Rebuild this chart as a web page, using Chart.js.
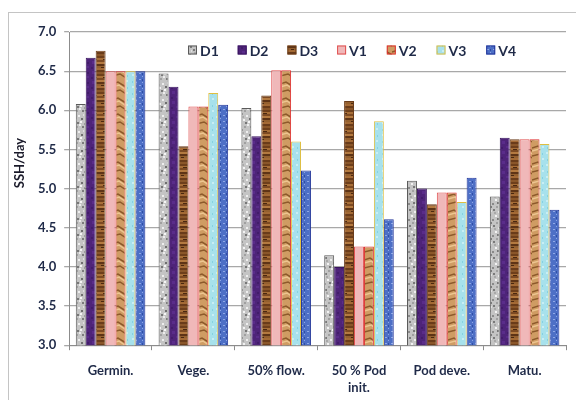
<!DOCTYPE html>
<html>
<head>
<meta charset="utf-8">
<script src="https://cdn.jsdelivr.net/npm/chart.js@4.4.1/dist/chart.umd.min.js"></script>
<style>
  html, body { margin: 0; padding: 0; background: #ffffff; overflow: hidden; }
  #wrap { position: relative; width: 576px; height: 400px; overflow: hidden; }
  #frame { position: absolute; left: 8px; top: 12px; width: 580px; height: 400px; border: 1px solid #c4c4c4; box-sizing: border-box; }
  canvas { position: absolute; left: 0; top: 0; }
</style>
</head>
<body>
<div id="wrap">
  <div id="frame"></div>
  <canvas id="canvasChart" width="576" height="420"></canvas>
</div>
<script>
// stages on the x axis
var stages = ['Germin.', 'Vege.', '50% flow.', ['50 % Pod', 'init.'], 'Pod deve.', 'Matu.'];
var seriesNames = ['D1', 'D2', 'D3', 'V1', 'V2', 'V3', 'V4'];

// SSH/day values
var d1 = [6.08, 6.47, 6.03, 4.15, 5.10, 4.90];
var d2 = [6.67, 6.30, 5.67, 4.00, 5.00, 5.65];
var d3 = [6.76, 5.54, 6.19, 6.12, 4.80, 5.63];
var v1 = [6.50, 6.05, 6.51, 4.26, 4.95, 5.63];
var v2 = [6.50, 6.05, 6.51, 4.26, 4.95, 5.63];
var v3 = [6.50, 6.22, 5.60, 5.86, 4.83, 5.57];
var v4 = [6.50, 6.07, 5.23, 4.61, 5.14, 4.73];

var yTicks = [3.0, 3.5, 4.0, 4.5, 5.0, 5.5, 6.0, 6.5, 7.0];
var yTitle = 'SSH/day';

var textColor = '#1f2a48';
var fontFam = 'Lato, "Open Sans", sans-serif';

// small texture tiles so the bars look like the office fills
function makePattern(w, h, paint) {
    var c = document.createElement('canvas');
    c.width = w;
    c.height = h;
    var g = c.getContext('2d');
    paint(g, w, h);
    return document.getElementById('canvasChart').getContext('2d').createPattern(c, 'repeat');
}

var patMarble = makePattern(12, 16, function (g, w, h) {
    g.fillStyle = '#c4c4c4';
    g.fillRect(0, 0, w, h);
    var spots = [[1, 1, '#7a7a7a'], [6, 3, '#eeeeee'], [9, 6, '#6f6f6f'], [3, 7, '#f2f2f2'],
                 [0, 11, '#8a8a8a'], [7, 12, '#ececec'], [10, 14, '#7c7c7c'], [4, 14, '#a0a0a0'],
                 [2, 4, '#a8a8a8'], [8, 9, '#f5f5f5'], [5, 10, '#777777'], [11, 2, '#e0e0e0']];
    spots.forEach(function (s) { g.fillStyle = s[2]; g.fillRect(s[0], s[1], 2, 2); });
});

var patPurple = makePattern(10, 10, function (g, w, h) {
    g.fillStyle = '#4e2479';
    g.fillRect(0, 0, w, h);
    g.fillStyle = '#5a2c8a';
    g.fillRect(2, 1, 3, 3);
    g.fillRect(6, 6, 3, 2);
    g.fillStyle = '#421c6a';
    g.fillRect(7, 2, 2, 2);
    g.fillRect(1, 7, 2, 2);
});

var patWood = makePattern(10, 18, function (g, w, h) {
    var rows = ['#8a5629', '#6e3f1b', '#a86f38', '#7d4a22', '#b47a40', '#5e3416', '#94602f', '#a46a35', '#6a3c1a'];
    for (var i = 0; i < rows.length; i++) {
        g.fillStyle = rows[i];
        g.fillRect(0, i * 2, w, 2);
    }
    g.fillStyle = '#4a2810';
    g.fillRect(3, 5, 4, 1);
    g.fillRect(1, 13, 3, 1);
});

var patPink = makePattern(4, 4, function (g, w, h) {
    g.fillStyle = '#f0b8b9';
    g.fillRect(0, 0, w, h);
});

var patTan = makePattern(14, 16, function (g, w, h) {
    g.fillStyle = '#cf9c63';
    g.fillRect(0, 0, w, h);
    g.strokeStyle = '#8d5a2b';
    g.lineWidth = 1.5;
    g.beginPath();
    g.moveTo(0, 4); g.lineTo(6, 2); g.lineTo(14, 7);
    g.moveTo(0, 12); g.lineTo(8, 10); g.lineTo(14, 14);
    g.stroke();
    g.strokeStyle = '#ecc590';
    g.beginPath();
    g.moveTo(0, 7); g.lineTo(7, 5); g.lineTo(14, 10);
    g.stroke();
});

var patCyan = makePattern(10, 12, function (g, w, h) {
    g.fillStyle = '#a7e1ec';
    g.fillRect(0, 0, w, h);
    g.fillStyle = '#c9eef4';
    g.fillRect(2, 2, 2, 2);
    g.fillRect(6, 8, 2, 2);
    g.fillStyle = '#86d2e0';
    g.fillRect(7, 3, 1, 2);
    g.fillRect(2, 9, 1, 2);
});

var patBlue = makePattern(6, 6, function (g, w, h) {
    g.fillStyle = '#4d6fc6';
    g.fillRect(0, 0, w, h);
    g.fillStyle = '#8fa8e6';
    g.fillRect(1, 1, 2, 1);
    g.fillRect(4, 4, 1, 1);
    g.fillStyle = '#2f4ea5';
    g.fillRect(4, 1, 1, 2);
});

var fills = [patMarble, patPurple, patWood, patPink, patTan, patCyan, patBlue];
var borders = ['#5a5a5a', '#3a1560', '#6a3c1a', '#e05050', '#e03030', '#e0bf40', '#23369a'];
var values = [d1, d2, d3, v1, v2, v3, v4];

// legend drawn inside the plot, like the original
var insideLegend = {
    id: 'insideLegend',
    afterDraw: function (chart) {
        var ctx = chart.ctx;
        ctx.save();
        ctx.font = 'bold 14px ' + fontFam;
        ctx.textBaseline = 'middle';
        var x0 = 188, y0 = 50, step = 49.7;
        chart.data.datasets.forEach(function (ds, i) {
            var x = x0 + i * step;
            ctx.fillStyle = ds.backgroundColor;
            ctx.fillRect(x, y0 - 4.5, 9, 9);
            ctx.strokeStyle = ds.borderColor;
            ctx.lineWidth = 1;
            ctx.strokeRect(x + 0.5, y0 - 4, 8, 8);
            ctx.fillStyle = textColor;
            ctx.fillText(ds.label, x + 12, y0 + 1);
        });
        // y axis title, sitting a bit above the middle as in the source
        ctx.translate(20, 163);
        ctx.rotate(-Math.PI / 2);
        ctx.textAlign = 'center';
        ctx.font = 'bold 13px ' + fontFam;
        ctx.fillStyle = '#1a1a2a';
        ctx.fillText(yTitle, 0, 0);
        ctx.restore();
    }
};

function drawChart() {
    try {
        var datasets = seriesNames.map(function (name, i) {
            return {
                label: name,
                data: values[i],
                backgroundColor: fills[i],
                borderColor: borders[i],
                borderWidth: 1,
                borderSkipped: 'bottom',
                categoryPercentage: 0.84,
                barPercentage: 1.0
            };
        });

        var config = {
            type: 'bar',
            data: {
                labels: stages,
                datasets: datasets
            },
            options: {
                animation: false,
                responsive: false,
                layout: {
                    padding: { left: 30, right: 10, top: 32, bottom: 12 }
                },
                scales: {
                    x: {
                        grid: {
                            display: true,
                            drawOnChartArea: false,
                            drawTicks: true,
                            tickLength: 5,
                            color: '#8c8c8c'
                        },
                        border: { color: '#8c8c8c' },
                        ticks: {
                            color: textColor,
                            font: { family: fontFam, size: 13, weight: 'bold', lineHeight: 1.3 },
                            padding: 12,
                            maxRotation: 0
                        }
                    },
                    y: {
                        min: 3.0,
                        max: 7.0,
                        afterBuildTicks: function (axis) {
                            axis.ticks = yTicks.map(function (v) { return { value: v }; });
                        },
                        grid: {
                            color: '#a8a8a8',
                            lineWidth: 1.3,
                            tickLength: 5
                        },
                        border: { color: '#8c8c8c' },
                        ticks: {
                            color: textColor,
                            font: { family: fontFam, size: 13, weight: 'bold' },
                            padding: 8,
                            callback: function (v) { return Number(v).toFixed(1); }
                        }
                    }
                },
                plugins: {
                    legend: { display: false },
                    tooltip: { enabled: false }
                }
            },
            plugins: [insideLegend]
        };
        var ctx = document.getElementById('canvasChart').getContext('2d');
        new Chart(ctx, config);
    } catch (error) {
        console.log('Error draw: ' + error);
    }
}

drawChart();
</script>
</body>
</html>
